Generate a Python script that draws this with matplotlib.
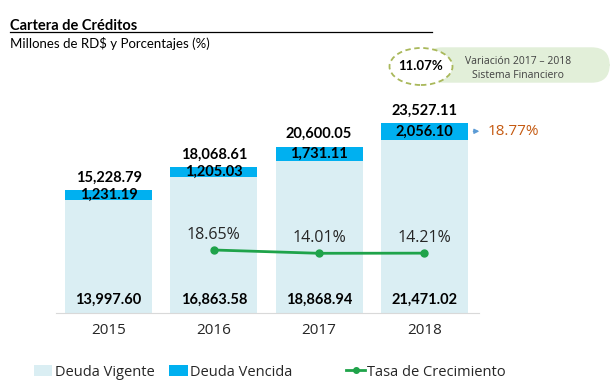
import matplotlib.pyplot as plt
import numpy as np
from matplotlib.lines import Line2D
from matplotlib.patches import FancyBboxPatch, Ellipse, Patch

# datos
years = ['2015', '2016', '2017', '2018']
vigente = np.array([13997.60, 16863.58, 18868.94, 21471.02])
vencida = np.array([1231.19, 1205.03, 1731.11, 2056.10])
total = np.array([15228.79, 18068.61, 20600.05, 23527.11])
tasa_years = [1, 2, 3]
tasa = [18.65, 14.01, 14.21]
var_vencida = '18.77%'
var_sistema = '11.07%'

W, H = 616, 389
c_vig = '#daeef3'
c_ven = '#00b0f0'
c_line = '#1fa34a'
fnum = ['Lato', 'DejaVu Sans']
fgot = ['Open Sans', 'DejaVu Sans']


def px(x, y):
    return x / W, 1 - y / H


def main():
    fig = plt.figure(figsize=(6.16, 3.89), dpi=100)
    fig.patch.set_facecolor('white')

    # ejes: base en y=313 px, x de 56 a 479 px
    left, bottom = 56 / W, (H - 313) / H
    width, height = (479 - 56) / W, 213.2 / H
    ax = fig.add_axes([left, bottom, width, height])
    x = np.arange(len(years))
    bw = 0.826
    ax.bar(x, vigente, bw, color=c_vig)
    ax.bar(x, vencida, bw, bottom=vigente, color=c_ven)
    ax.set_xlim(-0.5, 3.52)
    ax.set_ylim(0, 26400)
    for s in ['top', 'right', 'left']:
        ax.spines[s].set_visible(False)
    ax.spines['bottom'].set_color('#d9d9d9')
    ax.set_yticks([])
    ax.set_xticks(x)
    ax.set_xticklabels(years, fontsize=11, family=fgot, color='#262626')
    ax.tick_params(axis='x', length=0, pad=7)

    for i in range(len(years)):
        ax.annotate(f'{total[i]:,.2f}', (x[i], total[i]), xytext=(0, 4),
                    textcoords='offset points', ha='center', va='bottom',
                    fontsize=10.5, fontweight='bold', family=fnum)
        ax.text(x[i], vigente[i] + vencida[i] / 2, f'{vencida[i]:,.2f}',
                ha='center', va='center', fontsize=10.5, fontweight='bold',
                family=fnum)
        ax.annotate(f'{vigente[i]:,.2f}', (x[i], 0), xytext=(0, 9.5),
                    textcoords='offset points', ha='center', va='center',
                    fontsize=10.5, fontweight='bold', family=fnum)

    # flecha variacion deuda vencida
    yv = vigente[3] + vencida[3] / 2
    ax.annotate('', xy=(3.55, yv), xytext=(3.44, yv),
                arrowprops=dict(arrowstyle='-|>', color='#5b9bd5', lw=1,
                                mutation_scale=7), annotation_clip=False)
    ax.text(3.6, yv, var_vencida, ha='left', va='center', fontsize=11,
            color='#c55a11', family=fgot, clip_on=False)

    # tasa de crecimiento en eje secundario
    ax2 = ax.twinx()
    ax2.set_ylim(-70, 230)
    ax2.plot(tasa_years, tasa, color=c_line, lw=2, marker='o', ms=5)
    ax2.axis('off')
    for xi, v in zip(tasa_years, tasa):
        ax2.annotate(f'{v:.2f}%', (xi, v), xytext=(0, 11),
                     textcoords='offset points', ha='center', va='center',
                     fontsize=11.5, family=fgot, color='#262626')

    # titulo
    fig.text(*px(10, 26), 'Cartera de Créditos', fontsize=10.5,
             fontweight='bold', family=fnum, va='center')
    fig.add_artist(Line2D([10 / W, 432 / W], [1 - 32 / H, 1 - 32 / H],
                          color='black', lw=0.9))
    fig.text(*px(10, 44), 'Millones de RD$ y Porcentajes (%)', fontsize=9.5,
             family=fnum, va='center')

    # recuadro sistema financiero
    x0, y0 = px(425, 82)
    x1, y1 = px(609, 48)
    box = FancyBboxPatch((x0, y0), x1 - x0, y1 - y0,
                         boxstyle='round,pad=0,rounding_size=0.028',
                         transform=fig.transFigure, facecolor='#e2efd9',
                         edgecolor='#e2efd9', mutation_aspect=W / H)
    fig.add_artist(box)
    cx, cy = px(421, 66.5)
    ell = Ellipse((cx, cy), 63 / W, 37 / H, transform=fig.transFigure,
                  facecolor='white', edgecolor='#a9b85a', lw=1.3,
                  linestyle=(0, (3, 2)))
    fig.add_artist(ell)
    fig.text(cx, cy, var_sistema, ha='center', va='center', fontsize=9.5,
             fontweight='bold', family=fnum)
    fig.text(*px(518, 62), 'Variación 2017 – 2018', ha='center',
             va='center', fontsize=7.5, family=fgot, color='#404040')
    fig.text(*px(518, 75), 'Sistema Financiero', ha='center',
             va='center', fontsize=7.5, family=fgot, color='#404040')

    # leyenda
    labels = ['Deuda Vigente', 'Deuda Vencida', 'Tasa de Crecimiento']
    lg_kw = dict(loc='center', frameon=False,
                 prop={'family': fgot, 'size': 10.5}, handlelength=1.3,
                 handleheight=0.7, handletextpad=0.15, labelcolor='#262626')
    fig.legend([Patch(facecolor=c_vig), Patch(facecolor=c_ven)], labels[:2],
               bbox_to_anchor=px(163, 372), ncol=2, columnspacing=1.0,
               **lg_kw)
    fig.legend([Line2D([], [], color=c_line, lw=2, marker='o', ms=4)],
               labels[2:], bbox_to_anchor=px(426, 372), **lg_kw)

    plt.savefig('out.png', dpi=100)


if __name__ == '__main__':
    main()
